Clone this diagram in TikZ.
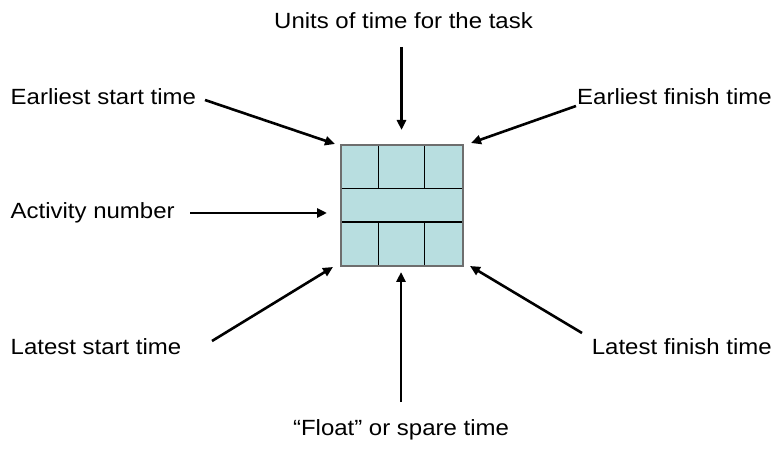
\documentclass[tikz,border=0pt]{standalone}
\usepackage{fontspec}
\setmainfont{Liberation Sans}[FakeStretch=1.09]
\usetikzlibrary{arrows.meta}
\definecolor{boxfill}{RGB}{184,222,224}
\definecolor{boxedge}{RGB}{110,110,110}
\begin{document}
\begin{tikzpicture}[x=1bp,y=-1bp,
  lbl/.style={inner sep=0pt, font=\fontsize{22bp}{26bp}\selectfont},
  pointer/.style={line width=2.6bp, -{Triangle[length=10bp,width=9bp]}},
  cellline/.style={line width=1.1bp, black}]
\useasboundingbox (0,0) rectangle (775,451);
% labels
\node[lbl, anchor=base] (units) at (403.5,28.5) {Units of time for the task};
\node[lbl, anchor=base west] (es) at (10.5,105) {Earliest start time};
\node[lbl, anchor=base east] (ef) at (772,105) {Earliest finish time};
\node[lbl, anchor=base west] (an) at (10.5,219) {Activity number};
\node[lbl, anchor=base west] (ls) at (10.5,355) {Latest start time};
\node[lbl, anchor=base east] (lf) at (772,355) {Latest finish time};
\node[lbl, anchor=base] (fl) at (401,435) {“Float” or spare time};
% activity box
\node[fill=boxfill, draw=none, minimum width=122bp, minimum height=121bp, inner sep=0pt] (box) at (402,205.5) {};
\draw[cellline] (341,188.7) -- (463,188.7);
\draw[cellline] (341,222) -- (463,222);
\draw[cellline] (378.7,145) -- (378.7,188.7);
\draw[cellline] (424.7,145) -- (424.7,188.7);
\draw[cellline] (378.7,222) -- (378.7,266);
\draw[cellline] (424.7,222) -- (424.7,266);
\draw[boxedge, line width=1.6bp] (box.north west) rectangle (box.south east);
% arrow end points
\coordinate (unitsA) at (401.5,47);   \coordinate (unitsB) at (401.5,130);
\coordinate (esA) at (205,100);       \coordinate (esB) at (335,144);
\coordinate (efA) at (576,106);       \coordinate (efB) at (471,143);
\coordinate (anA) at (190,213);       \coordinate (anB) at (327,213);
\coordinate (lsA) at (212,341);       \coordinate (lsB) at (333,267);
\coordinate (lfA) at (582,333);       \coordinate (lfB) at (470,266);
\coordinate (flA) at (401,402);       \coordinate (flB) at (401,272);
\draw[pointer] (unitsA) -- (unitsB);
\draw[pointer] (esA) -- (esB);
\draw[pointer] (efA) -- (efB);
\draw[pointer] (anA) -- (anB);
\draw[pointer] (lsA) -- (lsB);
\draw[pointer] (lfA) -- (lfB);
\draw[pointer] (flA) -- (flB);
\end{tikzpicture}
\end{document}
